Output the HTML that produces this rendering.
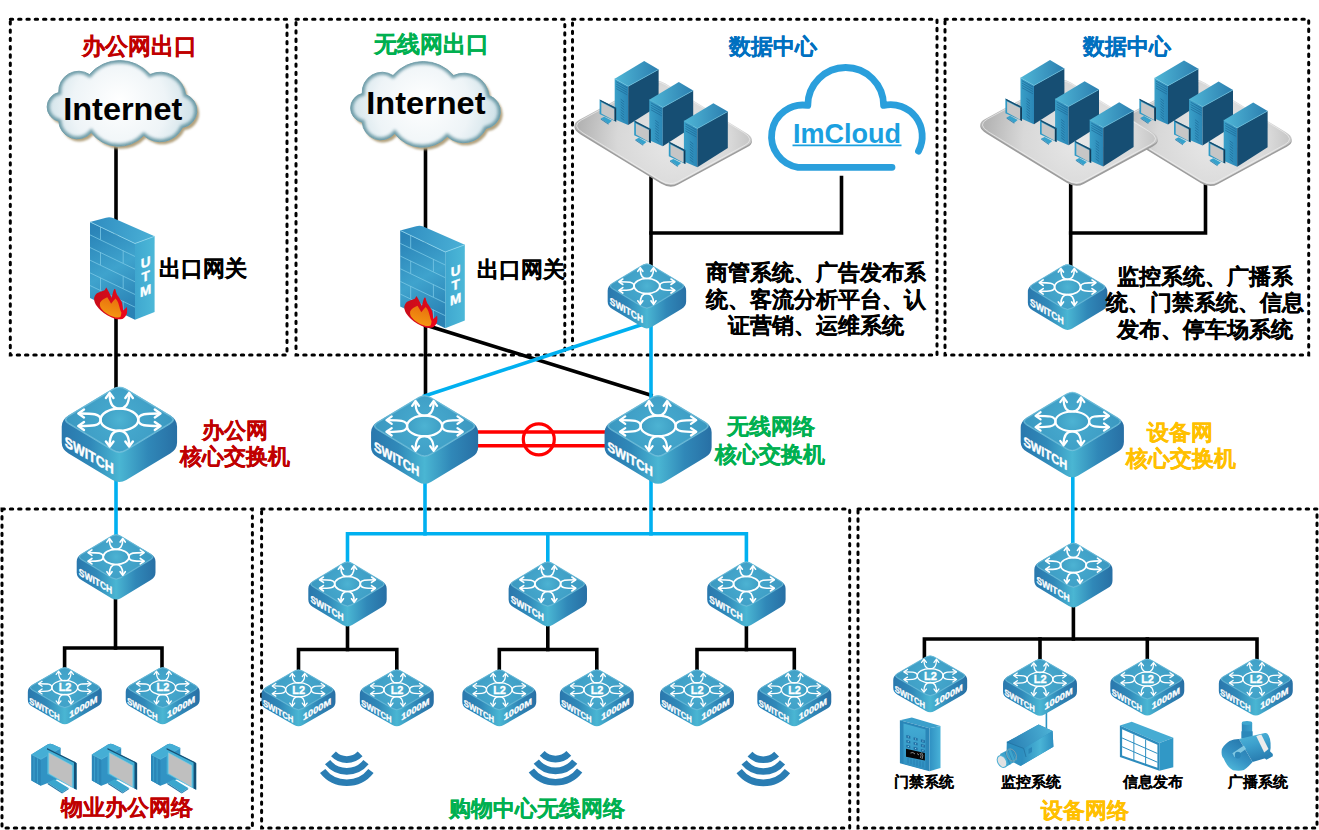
<!DOCTYPE html>
<html><head><meta charset="utf-8"><style>
html,body{margin:0;padding:0;background:#fff;width:1319px;height:830px;overflow:hidden}
svg{display:block;font-family:"Liberation Sans",sans-serif}
</style></head><body>
<svg width="1319" height="830" viewBox="0 0 1319 830">
<defs>

<linearGradient id="gSide" gradientUnits="userSpaceOnUse" x1="-50" y1="0" x2="50" y2="0">
 <stop offset="0" stop-color="#2a78ad"/><stop offset="0.25" stop-color="#3089b9"/><stop offset="0.5" stop-color="#4ab6d3"/><stop offset="0.75" stop-color="#3088b8"/><stop offset="1" stop-color="#2870a5"/>
</linearGradient>
<radialGradient id="gTop" gradientUnits="userSpaceOnUse" cx="0" cy="29" r="50">
 <stop offset="0" stop-color="#48acd0"/><stop offset="1" stop-color="#3a97c0"/>
</radialGradient>
<radialGradient id="gEll" gradientUnits="userSpaceOnUse" cx="0" cy="29" r="18">
 <stop offset="0" stop-color="#4db3d3"/><stop offset="1" stop-color="#3c9cc3"/>
</radialGradient>

<radialGradient id="gCloud" gradientUnits="userSpaceOnUse" cx="72" cy="48" r="85" fx="72" fy="40">
 <stop offset="0" stop-color="#ffffff"/><stop offset="0.55" stop-color="#eef4f7"/><stop offset="1" stop-color="#c4dbe3"/>
</radialGradient>
<filter id="fBlur1" x="-10%" y="-10%" width="120%" height="120%"><feGaussianBlur stdDeviation="0.8"/></filter>
<filter id="fBlur2" x="-10%" y="-10%" width="120%" height="120%"><feGaussianBlur stdDeviation="1.5"/></filter>
<clipPath id="cpCloud"><path d="M 11.50,60.65 A 14.70,14.70 0 0 1 11.50,31.90 A 19.89,19.89 0 0 1 42.25,13.90 A 39.75,39.75 0 0 1 102.75,13.90 A 25.24,25.24 0 0 1 138.35,33.90 A 17.11,17.11 0 0 1 135.25,66.90 A 24.68,24.68 0 0 1 96.50,74.90 A 34.37,34.37 0 0 1 44.00,71.90 A 18.53,18.53 0 0 1 11.50,60.65 Z"/></clipPath>
<g id="cloud">
 <path d="M 11.50,60.65 A 14.70,14.70 0 0 1 11.50,31.90 A 19.89,19.89 0 0 1 42.25,13.90 A 39.75,39.75 0 0 1 102.75,13.90 A 25.24,25.24 0 0 1 138.35,33.90 A 17.11,17.11 0 0 1 135.25,66.90 A 24.68,24.68 0 0 1 96.50,74.90 A 34.37,34.37 0 0 1 44.00,71.90 A 18.53,18.53 0 0 1 11.50,60.65 Z" transform="translate(2.2 2.6)" fill="#b3a27e" filter="url(#fBlur1)"/>
 <path d="M 11.50,60.65 A 14.70,14.70 0 0 1 11.50,31.90 A 19.89,19.89 0 0 1 42.25,13.90 A 39.75,39.75 0 0 1 102.75,13.90 A 25.24,25.24 0 0 1 138.35,33.90 A 17.11,17.11 0 0 1 135.25,66.90 A 24.68,24.68 0 0 1 96.50,74.90 A 34.37,34.37 0 0 1 44.00,71.90 A 18.53,18.53 0 0 1 11.50,60.65 Z" fill="url(#gCloud)"/>
 <g clip-path="url(#cpCloud)"><path d="M 11.50,60.65 A 14.70,14.70 0 0 1 11.50,31.90 A 19.89,19.89 0 0 1 42.25,13.90 A 39.75,39.75 0 0 1 102.75,13.90 A 25.24,25.24 0 0 1 138.35,33.90 A 17.11,17.11 0 0 1 135.25,66.90 A 24.68,24.68 0 0 1 96.50,74.90 A 34.37,34.37 0 0 1 44.00,71.90 A 18.53,18.53 0 0 1 11.50,60.65 Z" fill="none" stroke="#6596a3" stroke-width="5.2" filter="url(#fBlur2)" opacity="0.9"/></g>
 <path d="M 11.50,60.65 A 14.70,14.70 0 0 1 11.50,31.90 A 19.89,19.89 0 0 1 42.25,13.90 A 39.75,39.75 0 0 1 102.75,13.90 A 25.24,25.24 0 0 1 138.35,33.90 A 17.11,17.11 0 0 1 135.25,66.90 A 24.68,24.68 0 0 1 96.50,74.90 A 34.37,34.37 0 0 1 44.00,71.90 A 18.53,18.53 0 0 1 11.50,60.65 Z" fill="none" stroke="#6f9ca8" stroke-width="0.9"/>
</g>
<linearGradient id="gFwFront" gradientUnits="userSpaceOnUse" x1="0" y1="10" x2="45" y2="85">
 <stop offset="0" stop-color="#2a84b8"/><stop offset="0.5" stop-color="#3fa3cd"/><stop offset="1" stop-color="#2a82b5"/>
</linearGradient>
<linearGradient id="gFwSide" gradientUnits="userSpaceOnUse" x1="45" y1="0" x2="64.6" y2="0">
 <stop offset="0" stop-color="#3fa7cf"/><stop offset="1" stop-color="#4cb8d8"/>
</linearGradient>
<linearGradient id="gFwTop" gradientUnits="userSpaceOnUse" x1="0" y1="0" x2="64" y2="14">
 <stop offset="0" stop-color="#2f8cc0"/><stop offset="1" stop-color="#4ab0d6"/>
</linearGradient>
<linearGradient id="gFlameO" x1="0" y1="0" x2="1" y2="0.3">
 <stop offset="0" stop-color="#c40d1a"/><stop offset="1" stop-color="#e8071c"/>
</linearGradient>
<linearGradient id="gFlameI" x1="0.6" y1="0" x2="0.3" y2="1">
 <stop offset="0" stop-color="#e8700e"/><stop offset="1" stop-color="#f59a12"/>
</linearGradient>
<g id="fw">
<path d="M 0,0 L 16,-4.2 Q 19.9,-5.2 23,-3.8 L 64.6,14.4 L 45,21.6 Z" fill="url(#gFwTop)"/>
<path d="M 0,0 L 45,21.6 L 45,97.9 L 0,76 Z" fill="url(#gFwFront)"/>
<path d="M 45,21.6 L 64.6,14.4 L 64.6,90.1 L 45,97.9 Z" fill="url(#gFwSide)"/>
<path d="M 0,12.97 L 45,34.57 M 0,25.63 L 45,47.23 M 0,38.30 L 45,59.90 M 0,50.97 L 45,72.57 M 0,63.63 L 45,85.23 M 10.5,5.04 L 10.5,17.71 M 33.2,28.60 L 33.2,41.27 M 10.5,30.37 L 10.5,43.04 M 33.2,53.94 L 33.2,66.60 M 10.5,55.71 L 10.5,68.37 M 33.2,79.27 L 33.2,91.94" stroke="#7cc9e6" stroke-width="0.9" fill="none" opacity="0.85"/>
<path d="M 0,0 L 45,21.6 L 64.6,14.4" stroke="#8fd6ee" stroke-width="0.8" fill="none"/>
<text transform="translate(55.5 45.0) skewY(-20)" x="0" y="0" text-anchor="middle" font-size="13.5" font-weight="bold" fill="#fff" stroke="#fff" stroke-width="0.4">U</text>
<text transform="translate(55.5 59.1) skewY(-20)" x="0" y="0" text-anchor="middle" font-size="13.5" font-weight="bold" fill="#fff" stroke="#fff" stroke-width="0.4">T</text>
<text transform="translate(55.5 73.2) skewY(-20)" x="0" y="0" text-anchor="middle" font-size="13.5" font-weight="bold" fill="#fff" stroke="#fff" stroke-width="0.4">M</text>
<path d="M 4.07,76 C 5,72.5 7,71 8.67,70.6 C 11,69.5 13,69.3 14.6,68.4 C 15.3,67.6 15.8,66.5 16.3,65.7 C 18,68.5 20,72 21.7,76 C 22.5,72.5 23.2,69 24.2,67.4 C 24.7,66.8 25.4,67 25.5,67.8 C 26,70.5 26.8,72.5 28.2,74.4 C 29.5,76.5 31.2,78.5 32,80.9 C 32.6,83.5 32.8,86 33.1,88.5 C 34.5,87.5 35.8,86.3 36.9,85.2 C 37.3,87.5 37.3,89.5 36.9,91.7 C 36,94 34.5,96 32.5,97.1 C 30,97.6 27.5,97.6 25.5,97.1 C 19.5,95 14.5,92 10.8,88.5 C 8,86 6,83.5 4.9,80.9 C 4.3,79.3 4,77.6 4.07,76 Z" fill="url(#gFlameO)"/>
<path d="M 10,80.9 C 11,79.3 12,78.2 13,77.6 C 14.5,76.8 16,76.2 17.3,75.4 C 18.6,77.5 20,79.8 21.1,81.9 C 22.5,80 24,78 25.5,76.5 C 26.7,77.8 27.6,79.3 28.2,80.9 C 29,83.3 29.6,86 30.4,88.5 C 30.8,89.3 31.1,90 31.4,90.6 C 31.4,92.2 31,93.7 30.4,95 C 28.8,95.6 27.1,95.7 25.5,95.5 C 21.5,94.5 18,92.8 15.2,90.6 C 13,89 11.3,87.2 10.3,85.2 C 9.8,83.8 9.7,82.3 10,80.9 Z" fill="url(#gFlameI)"/>
</g>
<radialGradient id="gPlat" gradientUnits="userSpaceOnUse" cx="100" cy="15" r="95">
 <stop offset="0" stop-color="#e8e8e8"/><stop offset="0.6" stop-color="#d8d8d8"/><stop offset="1" stop-color="#b4b4b4"/>
</radialGradient>
<linearGradient id="gSrvTop" x1="0" y1="0" x2="1" y2="0">
 <stop offset="0" stop-color="#4fb6d6"/><stop offset="1" stop-color="#2c7fb0"/>
</linearGradient>
<linearGradient id="gSrvFront" x1="0" y1="0" x2="1" y2="0">
 <stop offset="0" stop-color="#3aa0c8"/><stop offset="1" stop-color="#2a86b6"/>
</linearGradient>
<linearGradient id="gSrvSide" gradientUnits="userSpaceOnUse" x1="54" y1="0" x2="84" y2="0">
 <stop offset="0" stop-color="#164f75"/><stop offset="1" stop-color="#154666"/>
</linearGradient>
<g id="srvgrp">
<path d="M 5.17,-6.10 Q -5.34,-0.41 6.79,7.01 L 86.68,55.83 Q 95.78,61.39 103.66,57.12 L 172.83,19.60 Q 183.34,13.91 171.21,6.49 L 91.32,-42.33 Q 82.22,-47.89 74.34,-43.62 Z" transform="translate(0 1.8)" fill="#9d9d9d"/>
<path d="M 5.17,-6.10 Q -5.34,-0.41 6.79,7.01 L 86.68,55.83 Q 95.78,61.39 103.66,57.12 L 172.83,19.60 Q 183.34,13.91 171.21,6.49 L 91.32,-42.33 Q 82.22,-47.89 74.34,-43.62 Z" fill="url(#gPlat)"/>
<path d="M 7.14,-5.80 Q -3.11,-0.24 8.73,7.00 L 86.74,54.67 Q 95.62,60.10 103.32,55.93 L 170.86,19.30 Q 181.12,13.74 169.27,6.50 L 91.26,-41.17 Q 82.38,-46.60 74.68,-42.43 Z" fill="none" stroke="#f2f2f2" stroke-width="0.8" opacity="0.8"/>
<path d="M 40.50,-47.20 L 54.00,-39.60 L 54.00,-0.80 L 40.50,-6.70 Z" fill="url(#gSrvFront)" transform="translate(0 0)"/>
<path d="M 54.00,-39.60 L 84.40,-56.50 L 84.40,-20.20 L 54.00,-0.80 Z" fill="#164e73"/>
<path d="M 40.50,-47.20 L 70.00,-64.90 L 84.40,-56.50 L 54.00,-39.60 Z" fill="url(#gSrvTop)"/>
<path d="M 42.00,-44.20 L 53.00,-38.01 M 42.00,-41.90 L 53.00,-35.71 M 42.00,-39.60 L 53.00,-33.41 M 42.00,-37.30 L 53.00,-31.11 M 46.50,-26.67 L 50.00,-23.85 M 46.50,-24.07 L 50.00,-21.25 M 46.50,-21.47 L 50.00,-18.65 M 46.50,-18.87 L 50.00,-16.05 M 46.50,-16.27 L 50.00,-13.45 M 46.50,-13.67 L 50.00,-10.85 M 46.50,-11.07 L 50.00,-8.25 M 46.50,-8.47 L 50.00,-5.65" stroke="#1d6a98" stroke-width="0.7" fill="none"/>
<path d="M 40.50,-47.20 L 54.00,-39.60 L 84.40,-56.50" stroke="#6cc6e3" stroke-width="0.6" fill="none"/>
<path d="M 26.60,-7.50 L 30.00,-9.20 L 37.70,-5.10 L 34.30,-2.20 Z" fill="#36a2cc"/>
<path d="M 26.60,-7.50 L 34.30,-2.20 L 34.30,-1.20 L 26.60,-6.50 Z" fill="#2a80b0"/>
<path d="M 25.40,-26.50 L 42.00,-18.10 L 42.00,-4.10 L 25.40,-11.80 Z" fill="#2f9ac6"/>
<path d="M 40.10,-17.10 L 42.00,-18.10 L 42.00,-4.10 L 40.10,-5.10 Z" fill="#133c58"/>
<path d="M 25.40,-26.50 L 42.00,-18.10 L 40.60,-17.20 L 26.40,-24.60 Z" fill="#1a4a6a"/>
<path d="M 27.10,-23.60 L 40.10,-16.90 L 40.10,-5.30 L 27.10,-12.50 Z" fill="#c6c6c6"/>
<path d="M 75.10,-26.10 L 88.60,-18.50 L 88.60,20.30 L 75.10,14.40 Z" fill="url(#gSrvFront)" transform="translate(0 0)"/>
<path d="M 88.60,-18.50 L 119.00,-35.40 L 119.00,0.90 L 88.60,20.30 Z" fill="#164e73"/>
<path d="M 75.10,-26.10 L 104.60,-43.80 L 119.00,-35.40 L 88.60,-18.50 Z" fill="url(#gSrvTop)"/>
<path d="M 76.60,-23.10 L 87.60,-16.91 M 76.60,-20.80 L 87.60,-14.61 M 76.60,-18.50 L 87.60,-12.31 M 76.60,-16.20 L 87.60,-10.01 M 81.10,-5.57 L 84.60,-2.75 M 81.10,-2.97 L 84.60,-0.15 M 81.10,-0.37 L 84.60,2.45 M 81.10,2.23 L 84.60,5.05 M 81.10,4.83 L 84.60,7.65 M 81.10,7.43 L 84.60,10.25 M 81.10,10.03 L 84.60,12.85 M 81.10,12.63 L 84.60,15.45" stroke="#1d6a98" stroke-width="0.7" fill="none"/>
<path d="M 75.10,-26.10 L 88.60,-18.50 L 119.00,-35.40" stroke="#6cc6e3" stroke-width="0.6" fill="none"/>
<path d="M 61.20,13.60 L 64.60,11.90 L 72.30,16.00 L 68.90,18.90 Z" fill="#36a2cc"/>
<path d="M 61.20,13.60 L 68.90,18.90 L 68.90,19.90 L 61.20,14.60 Z" fill="#2a80b0"/>
<path d="M 60.00,-5.40 L 76.60,3.00 L 76.60,17.00 L 60.00,9.30 Z" fill="#2f9ac6"/>
<path d="M 74.70,4.00 L 76.60,3.00 L 76.60,17.00 L 74.70,16.00 Z" fill="#133c58"/>
<path d="M 60.00,-5.40 L 76.60,3.00 L 75.20,3.90 L 61.00,-3.50 Z" fill="#1a4a6a"/>
<path d="M 61.70,-2.50 L 74.70,4.20 L 74.70,15.80 L 61.70,8.60 Z" fill="#c6c6c6"/>
<path d="M 109.70,-5.00 L 123.20,2.60 L 123.20,41.40 L 109.70,35.50 Z" fill="url(#gSrvFront)" transform="translate(0 0)"/>
<path d="M 123.20,2.60 L 153.60,-14.30 L 153.60,22.00 L 123.20,41.40 Z" fill="#164e73"/>
<path d="M 109.70,-5.00 L 139.20,-22.70 L 153.60,-14.30 L 123.20,2.60 Z" fill="url(#gSrvTop)"/>
<path d="M 111.20,-2.00 L 122.20,4.19 M 111.20,0.30 L 122.20,6.49 M 111.20,2.60 L 122.20,8.79 M 111.20,4.90 L 122.20,11.09 M 115.70,15.53 L 119.20,18.35 M 115.70,18.13 L 119.20,20.95 M 115.70,20.73 L 119.20,23.55 M 115.70,23.33 L 119.20,26.15 M 115.70,25.93 L 119.20,28.75 M 115.70,28.53 L 119.20,31.35 M 115.70,31.13 L 119.20,33.95 M 115.70,33.73 L 119.20,36.55" stroke="#1d6a98" stroke-width="0.7" fill="none"/>
<path d="M 109.70,-5.00 L 123.20,2.60 L 153.60,-14.30" stroke="#6cc6e3" stroke-width="0.6" fill="none"/>
<path d="M 95.80,34.70 L 99.20,33.00 L 106.90,37.10 L 103.50,40.00 Z" fill="#36a2cc"/>
<path d="M 95.80,34.70 L 103.50,40.00 L 103.50,41.00 L 95.80,35.70 Z" fill="#2a80b0"/>
<path d="M 94.60,15.70 L 111.20,24.10 L 111.20,38.10 L 94.60,30.40 Z" fill="#2f9ac6"/>
<path d="M 109.30,25.10 L 111.20,24.10 L 111.20,38.10 L 109.30,37.10 Z" fill="#133c58"/>
<path d="M 94.60,15.70 L 111.20,24.10 L 109.80,25.00 L 95.60,17.60 Z" fill="#1a4a6a"/>
<path d="M 96.30,18.60 L 109.30,25.30 L 109.30,36.90 L 96.30,29.70 Z" fill="#c6c6c6"/>
</g><g id="pc">
<path d="M 5.4,16.6 L 21.5,6.6 Q 23.8,5.2 26.5,6.2 L 34.7,10.1 L 34.7,40 L 14.8,47.7 L 5.4,42.6 Z" fill="#3193c4"/>
<path d="M 5.40,16.60 L 14.80,21.30 L 14.80,47.70 L 5.40,42.60 Z" fill="#2a86b8"/>
<path d="M 5.4,16.6 L 21.5,6.6 Q 23.8,5.2 26.5,6.2 L 34.7,10.1 L 14.8,21.3 Z" fill="#45aed5"/>
<path d="M 8,18.5 L 8,43.5 M 11.5,20.3 L 11.5,45.5" stroke="#3aa0cc" stroke-width="1"/>
<path d="M 5.4,16.6 L 14.8,21.3 L 34.7,10.1" stroke="#6fc4e2" stroke-width="0.5" fill="none"/>
<path d="M 21.70,44.80 L 28.20,41.20 L 42.60,49.90 L 36.10,54.20 Z" fill="#3aa6ce"/>
<path d="M 21.70,44.80 L 36.10,54.20 L 36.10,55.60 L 21.70,46.20 Z" fill="#2577a8"/>
<path d="M 36.10,54.20 L 42.60,49.90 L 42.60,51.30 L 36.10,55.60 Z" fill="#2a86b8"/>
<path d="M 21.00,10.10 L 48.00,23.50 L 50.60,25.30 L 50.60,51.70 L 48.00,50.50 L 21.00,36.10 Z" fill="#44b0d6"/>
<path d="M 48.00,23.50 L 50.60,25.30 L 50.60,51.70 L 48.00,50.50 Z" fill="#154f75"/>
<path d="M 21.00,10.10 L 48.00,23.50 L 50.60,25.30 L 48.00,24.80 L 21.00,11.60 Z" fill="#174f73"/>
<path d="M 22.80,14.80 L 46.20,27.50 L 46.20,49.10 L 22.80,35.40 Z" fill="#bfbfbf" stroke="#7fd0ea" stroke-width="0.6"/>
</g>
<linearGradient id="gDoorPanel" x1="0" y1="0" x2="0" y2="1">
 <stop offset="0" stop-color="#44acd4"/><stop offset="1" stop-color="#2f8fc0"/>
</linearGradient>
<linearGradient id="gDoorSide" x1="0" y1="0" x2="1" y2="0">
 <stop offset="0" stop-color="#2f90c2"/><stop offset="1" stop-color="#48b2d8"/>
</linearGradient>
<linearGradient id="gCamTop" x1="0" y1="0.5" x2="1" y2="0.3">
 <stop offset="0" stop-color="#2a80b4"/><stop offset="1" stop-color="#4cb2d6"/>
</linearGradient>
<linearGradient id="gCamSide" x1="0" y1="0" x2="1" y2="0">
 <stop offset="0" stop-color="#2b8abd"/><stop offset="0.6" stop-color="#4ab4d6"/><stop offset="1" stop-color="#2e8fc0"/>
</linearGradient>
<linearGradient id="gSpkBody" x1="0" y1="0" x2="0.3" y2="1">
 <stop offset="0" stop-color="#52b8da"/><stop offset="0.5" stop-color="#3c9fcc"/><stop offset="1" stop-color="#2a7fb2"/>
</linearGradient>
<linearGradient id="gStub" x1="0" y1="0" x2="1" y2="0">
 <stop offset="0" stop-color="#2c88ba"/><stop offset="1" stop-color="#3aa0cc"/>
</linearGradient>
<linearGradient id="gHorn" x1="0.8" y1="0" x2="0.2" y2="1">
 <stop offset="0" stop-color="#2474a8"/><stop offset="0.55" stop-color="#3592c4"/><stop offset="1" stop-color="#52bcdc"/>
</linearGradient><g id="sw">
<path d="M -6.0,2.17 Q 0,-1.45 6.0,2.17 L 44.5,25.38 Q 50.5,29.0 50.5,35.00 L 50.5,49.00 Q 50.5,55.0 44.5,58.62 L 6.0,81.83 Q 0,85.45 -6.0,81.83 L -44.5,58.62 Q -50.5,55.0 -50.5,49.00 L -50.5,35.00 Q -50.5,29.0 -44.5,25.38 Z" fill="url(#gSide)"/>
<path d="M -6.0,2.17 Q 0,-1.45 6.0,2.17 L 44.5,25.38 Q 50.5,29.0 44.5,32.62 L 6.0,55.83 Q 0,59.45 -6.0,55.83 L -44.5,32.62 Q -50.5,29.0 -44.5,25.38 Z" fill="url(#gTop)" stroke="#7ec8e0" stroke-width="0.6"/>
<path d="M -5.0,2.33 Q 0,-0.69 5.0,2.33 L 44.2375,25.99 Q 49.2375,29.0 44.2375,32.01 L 5.0,55.67 Q 0,58.69 -5.0,55.67 L -44.2375,32.01 Q -49.2375,29.0 -44.2375,25.99 Z" fill="none" stroke="#9ad6ea" stroke-width="0.5" opacity="0.7"/>
<ellipse cx="0" cy="29.00" rx="16.5" ry="9.70" fill="url(#gEll)" stroke="#fff" stroke-width="2.1"/>
<path d="M -8.5,7.0 C -8.5,15.5 -5,19.3 0,19.3 C 5,19.3 8.5,15.5 8.5,7.0" stroke="#fff" stroke-width="2.1" fill="none" stroke-linecap="round" stroke-linejoin="round"/>
<path d="M -35,23.5 C -24,23.5 -16.5,23.5 -16.5,29.0 C -16.5,34.5 -24,34.5 -35,34.5" stroke="#fff" stroke-width="2.1" fill="none" stroke-linecap="round" stroke-linejoin="round"/>
<path d="M 35,23.5 C 24,23.5 16.5,23.5 16.5,29.0 C 16.5,34.5 24,34.5 35,34.5" stroke="#fff" stroke-width="2.1" fill="none" stroke-linecap="round" stroke-linejoin="round"/>
<path d="M -8.5,51.0 C -8.5,42.5 -5,38.7 0,38.7 C 5,38.7 8.5,42.5 8.5,51.0" stroke="#fff" stroke-width="2.1" fill="none" stroke-linecap="round" stroke-linejoin="round"/>
<path d="M -11.8,10.0 L -8.5,5.5 L -5.2,10.0" stroke="#fff" stroke-width="2.1" fill="none" stroke-linecap="round" stroke-linejoin="round"/>
<path d="M 5.2,10.0 L 8.5,5.5 L 11.8,10.0" stroke="#fff" stroke-width="2.1" fill="none" stroke-linecap="round" stroke-linejoin="round"/>
<path d="M -31,20.0 L -36,23.5 L -31,27.0" stroke="#fff" stroke-width="2.1" fill="none" stroke-linecap="round" stroke-linejoin="round"/>
<path d="M -31,31.0 L -36,34.5 L -31,38.0" stroke="#fff" stroke-width="2.1" fill="none" stroke-linecap="round" stroke-linejoin="round"/>
<path d="M 31,20.0 L 36,23.5 L 31,27.0" stroke="#fff" stroke-width="2.1" fill="none" stroke-linecap="round" stroke-linejoin="round"/>
<path d="M 31,31.0 L 36,34.5 L 31,38.0" stroke="#fff" stroke-width="2.1" fill="none" stroke-linecap="round" stroke-linejoin="round"/>
<path d="M -11.8,48.0 L -8.5,52.5 L -5.2,48.0" stroke="#fff" stroke-width="2.1" fill="none" stroke-linecap="round" stroke-linejoin="round"/>
<path d="M 5.2,48.0 L 8.5,52.5 L 11.8,48.0" stroke="#fff" stroke-width="2.1" fill="none" stroke-linecap="round" stroke-linejoin="round"/>
<text transform="skewY(30)" x="-47.8" y="79.8" font-size="13" font-weight="bold" fill="#fff" stroke="#fff" stroke-width="0.4" textLength="42.8" lengthAdjust="spacingAndGlyphs">SWITCH</text>
</g><g id="l2">
<path d="M -6.0,2.07 Q 0,-1.39 6.0,2.07 L 44.5,24.29 Q 50.5,27.75 50.5,33.75 L 50.5,44.25 Q 50.5,50.25 44.5,53.71 L 6.0,75.93 Q 0,79.39 -6.0,75.93 L -44.5,53.71 Q -50.5,50.25 -50.5,44.25 L -50.5,33.75 Q -50.5,27.75 -44.5,24.29 Z" fill="url(#gSide)"/>
<path d="M -6.0,2.07 Q 0,-1.39 6.0,2.07 L 44.5,24.29 Q 50.5,27.75 44.5,31.21 L 6.0,53.43 Q 0,56.89 -6.0,53.43 L -44.5,31.21 Q -50.5,27.75 -44.5,24.29 Z" fill="url(#gTop)" stroke="#7ec8e0" stroke-width="0.6"/>
<path d="M -5.0,2.23 Q 0,-0.66 5.0,2.23 L 44.2375,24.87 Q 49.2375,27.75 44.2375,30.63 L 5.0,53.27 Q 0,56.16 -5.0,53.27 L -44.2375,30.63 Q -49.2375,27.75 -44.2375,24.87 Z" fill="none" stroke="#9ad6ea" stroke-width="0.5" opacity="0.7"/>
<ellipse cx="0" cy="27.75" rx="17.5" ry="9.76" fill="url(#gEll)" stroke="#fff" stroke-width="1.75"/>
<path d="M -8.5,6.698275862068965 C -8.5,14.831896551724137 -5,18.468103448275862 0,18.468103448275862 C 5,18.468103448275862 8.5,14.831896551724137 8.5,6.698275862068965" stroke="#fff" stroke-width="1.75" fill="none" stroke-linecap="round" stroke-linejoin="round"/>
<path d="M -35,22.487068965517242 C -24,22.487068965517242 -17.5,22.487068965517242 -17.5,27.75 C -17.5,33.012931034482754 -24,33.012931034482754 -35,33.012931034482754" stroke="#fff" stroke-width="1.75" fill="none" stroke-linecap="round" stroke-linejoin="round"/>
<path d="M 35,22.487068965517242 C 24,22.487068965517242 17.5,22.487068965517242 17.5,27.75 C 17.5,33.012931034482754 24,33.012931034482754 35,33.012931034482754" stroke="#fff" stroke-width="1.75" fill="none" stroke-linecap="round" stroke-linejoin="round"/>
<path d="M -8.5,48.80172413793103 C -8.5,40.66810344827586 -5,37.03189655172414 0,37.03189655172414 C 5,37.03189655172414 8.5,40.66810344827586 8.5,48.80172413793103" stroke="#fff" stroke-width="1.75" fill="none" stroke-linecap="round" stroke-linejoin="round"/>
<path d="M -11.8,9.568965517241379 L -8.5,5.262931034482758 L -5.2,9.568965517241379" stroke="#fff" stroke-width="1.75" fill="none" stroke-linecap="round" stroke-linejoin="round"/>
<path d="M 5.2,9.568965517241379 L 8.5,5.262931034482758 L 11.8,9.568965517241379" stroke="#fff" stroke-width="1.75" fill="none" stroke-linecap="round" stroke-linejoin="round"/>
<path d="M -31,19.137931034482758 L -36,22.487068965517242 L -31,25.836206896551722" stroke="#fff" stroke-width="1.75" fill="none" stroke-linecap="round" stroke-linejoin="round"/>
<path d="M -31,29.663793103448274 L -36,33.012931034482754 L -31,36.36206896551724" stroke="#fff" stroke-width="1.75" fill="none" stroke-linecap="round" stroke-linejoin="round"/>
<path d="M 31,19.137931034482758 L 36,22.487068965517242 L 31,25.836206896551722" stroke="#fff" stroke-width="1.75" fill="none" stroke-linecap="round" stroke-linejoin="round"/>
<path d="M 31,29.663793103448274 L 36,33.012931034482754 L 31,36.36206896551724" stroke="#fff" stroke-width="1.75" fill="none" stroke-linecap="round" stroke-linejoin="round"/>
<path d="M -11.8,45.93103448275862 L -8.5,50.23706896551724 L -5.2,45.93103448275862" stroke="#fff" stroke-width="1.75" fill="none" stroke-linecap="round" stroke-linejoin="round"/>
<path d="M 5.2,45.93103448275862 L 8.5,50.23706896551724 L 11.8,45.93103448275862" stroke="#fff" stroke-width="1.75" fill="none" stroke-linecap="round" stroke-linejoin="round"/>
<text x="0.3" y="33.05" text-anchor="middle" font-size="15" font-weight="bold" fill="#fff" stroke="#fff" stroke-width="0.5">L2</text>
<text transform="skewY(30)" x="-48.5" y="77.3" font-size="12.3" font-weight="bold" fill="#fff" stroke="#fff" stroke-width="0.4" textLength="41.4" lengthAdjust="spacingAndGlyphs">SWITCH</text>
<text transform="skewY(-30)" x="6" y="73" font-size="12.3" font-weight="bold" fill="#fff" stroke="#fff" stroke-width="0.4" textLength="38.5" lengthAdjust="spacingAndGlyphs">1000M</text>
</g>
</defs>
<rect x="10.3" y="19.3" width="276.7" height="335.7" fill="none" stroke="#000" stroke-width="3" stroke-dasharray="2.4 5.9" stroke-linecap="round"/>
<rect x="296" y="19.3" width="268.79999999999995" height="335.7" fill="none" stroke="#000" stroke-width="3" stroke-dasharray="2.4 5.9" stroke-linecap="round"/>
<rect x="572.5" y="19.3" width="364.5" height="335.7" fill="none" stroke="#000" stroke-width="3" stroke-dasharray="2.4 5.9" stroke-linecap="round"/>
<rect x="945" y="19.3" width="363.70000000000005" height="335.7" fill="none" stroke="#000" stroke-width="3" stroke-dasharray="2.4 5.9" stroke-linecap="round"/>
<rect x="2" y="509" width="250.4" height="319" fill="none" stroke="#000" stroke-width="3" stroke-dasharray="2.4 5.9" stroke-linecap="round"/>
<rect x="261.6" y="509" width="588.1" height="319" fill="none" stroke="#000" stroke-width="3" stroke-dasharray="2.4 5.9" stroke-linecap="round"/>
<rect x="858" y="509" width="459" height="319" fill="none" stroke="#000" stroke-width="3" stroke-dasharray="2.4 5.9" stroke-linecap="round"/>
<path d="M 116,140 L 116,400" stroke="#000" stroke-width="3.6" fill="none" stroke-linecap="square"/>
<path d="M 116,470 L 116,545" stroke="#00b0f0" stroke-width="3.6" fill="none" stroke-linecap="square"/>
<path d="M 115.5,590 L 115.5,648" stroke="#000" stroke-width="3.6" fill="none" stroke-linecap="square"/>
<path d="M 64.6,680 L 64.6,648 L 162,648 L 162,680" stroke="#000" stroke-width="3.6" fill="none" stroke-linecap="square"/>
<path d="M 425.5,140 L 425.5,405" stroke="#000" stroke-width="3.6" fill="none" stroke-linecap="square"/>
<path d="M 425.5,325 L 651,395.2" stroke="#000" stroke-width="3.6" fill="none" stroke-linecap="square"/>
<path d="M 651,178 L 651,270" stroke="#000" stroke-width="3.6" fill="none" stroke-linecap="square"/>
<path d="M 651,233 L 841.5,233 L 841.5,177.6" stroke="#000" stroke-width="3.6" fill="none" stroke-linecap="square"/>
<path d="M 1070.7,175 L 1070.7,270" stroke="#000" stroke-width="3.6" fill="none" stroke-linecap="square"/>
<path d="M 1070.7,233 L 1205.5,233 L 1205.5,183" stroke="#000" stroke-width="3.6" fill="none" stroke-linecap="square"/>
<path d="M 651,320 L 651,400" stroke="#00b0f0" stroke-width="3.6" fill="none" stroke-linecap="square"/>
<path d="M 424.6,396 L 645,323.5" stroke="#00b0f0" stroke-width="3.6" fill="none" stroke-linecap="square"/>
<path d="M 425,470 L 425,533.8" stroke="#00b0f0" stroke-width="3.6" fill="none" stroke-linecap="square"/>
<path d="M 651,470 L 651,533.8" stroke="#00b0f0" stroke-width="3.6" fill="none" stroke-linecap="square"/>
<path d="M 347.5,570 L 347.5,533.8 L 746.4,533.8 L 746.4,570" stroke="#00b0f0" stroke-width="3.6" fill="none" stroke-linecap="square"/>
<path d="M 547.8,533.8 L 547.8,570" stroke="#00b0f0" stroke-width="3.6" fill="none" stroke-linecap="square"/>
<path d="M 347.5,615 L 347.5,649.5" stroke="#000" stroke-width="3.6" fill="none" stroke-linecap="square"/>
<path d="M 298.5,680 L 298.5,649.5 L 396.8,649.5 L 396.8,680" stroke="#000" stroke-width="3.6" fill="none" stroke-linecap="square"/>
<path d="M 547.8,615 L 547.8,649.5" stroke="#000" stroke-width="3.6" fill="none" stroke-linecap="square"/>
<path d="M 499.3,680 L 499.3,649.5 L 596.8,649.5 L 596.8,680" stroke="#000" stroke-width="3.6" fill="none" stroke-linecap="square"/>
<path d="M 746.4,615 L 746.4,649.5" stroke="#000" stroke-width="3.6" fill="none" stroke-linecap="square"/>
<path d="M 697,680 L 697,649.5 L 794.3,649.5 L 794.3,680" stroke="#000" stroke-width="3.6" fill="none" stroke-linecap="square"/>
<path d="M 1072.8,470 L 1072.8,550" stroke="#00b0f0" stroke-width="3.6" fill="none" stroke-linecap="square"/>
<path d="M 1073.4,600 L 1073.4,639" stroke="#000" stroke-width="3.6" fill="none" stroke-linecap="square"/>
<path d="M 924.4,665 L 924.4,639 L 1257,639 L 1257,665" stroke="#000" stroke-width="3.6" fill="none" stroke-linecap="square"/>
<path d="M 1040,639 L 1040,665" stroke="#000" stroke-width="3.6" fill="none" stroke-linecap="square"/>
<path d="M 1147.3,639 L 1147.3,665" stroke="#000" stroke-width="3.6" fill="none" stroke-linecap="square"/>
<path d="M 470,432 L 612,432 M 470,445.8 L 612,445.8" stroke="#ff0000" stroke-width="3.4" fill="none"/>
<circle cx="538.8" cy="439.3" r="15.5" stroke="#ff0000" stroke-width="3.2" fill="none"/>
<use href="#cloud" transform="translate(47.25 60.6)"/>
<use href="#cloud" transform="translate(350.75 61.6)"/>
<text x="63.2" y="120" font-size="31.8" font-weight="bold" fill="#000" textLength="119.2" lengthAdjust="spacingAndGlyphs">Internet</text>
<text x="366.3" y="113.75" font-size="31.8" font-weight="bold" fill="#000" textLength="119.2" lengthAdjust="spacingAndGlyphs">Internet</text>
<use href="#fw" transform="translate(90 221.9)"/>
<use href="#fw" transform="translate(400.2 230.4)"/>
<use href="#srvgrp" transform="translate(574.2 125.9)"/>
<use href="#srvgrp" transform="translate(1114 125.3)"/>
<use href="#srvgrp" transform="translate(980 125)"/>
<path d="M 892,167.3 L 798,167.3 A 31,31 0 1 1 807.8,105.4 A 37.2,37.2 0 1 1 883.6,105.4 A 31.6,31.6 0 0 1 918.5,151.1" stroke="#2a9fdc" stroke-width="6.8" fill="none" stroke-linecap="round" stroke-linejoin="round"/><text x="792.9" y="142.7" font-size="27" font-weight="bold" fill="#1aa0e0">ImCloud</text><path d="M 792.5,145.3 L 901.5,145.3" stroke="#1aa0e0" stroke-width="1.7"/>
<use href="#pc" transform="translate(26 738)"/>
<use href="#pc" transform="translate(86.5 738)"/>
<use href="#pc" transform="translate(145.6 738)"/>
<path d="M 333.48,753.90 A 18.52,18.52 0 0 0 360.12,753.90 M 327.59,762.16 A 24.72,24.72 0 0 0 366.01,762.16 M 322.65,770.97 A 30.65,30.65 0 0 0 370.95,770.97" stroke="#2a7db3" stroke-width="6.7" fill="none"/>
<path d="M 542.18,753.40 A 18.52,18.52 0 0 0 568.82,753.40 M 536.29,761.66 A 24.72,24.72 0 0 0 574.71,761.66 M 531.35,770.47 A 30.65,30.65 0 0 0 579.65,770.47" stroke="#2a7db3" stroke-width="6.7" fill="none"/>
<path d="M 749.98,754.10 A 18.52,18.52 0 0 0 776.62,754.10 M 744.09,762.36 A 24.72,24.72 0 0 0 782.51,762.36 M 739.15,771.17 A 30.65,30.65 0 0 0 787.45,771.17" stroke="#2a7db3" stroke-width="6.7" fill="none"/>
<path d="M 899.90,720.30 L 911.80,717.60 L 940.50,725.90 L 929.40,728.30 Z" fill="#3b9fcb"/>
<path d="M 899.90,720.30 L 929.40,728.30 L 929.40,771.30 L 899.90,763.30 Z" fill="#2a86b8"/>
<path d="M 903.50,723.50 L 925.50,729.50 L 925.50,769.80 L 903.50,763.80 Z" fill="url(#gDoorPanel)"/>
<path d="M 929.40,728.30 L 940.50,725.90 L 940.50,768.10 L 929.40,771.30 Z" fill="url(#gDoorSide)"/>
<path d="M 906.30,735.10 L 910.30,736.10 L 910.30,738.70 L 906.30,737.70 Z" fill="#1f6ea3"/>
<rect x="907.80" y="736.40" width="1" height="1" fill="#9fd8ee"/>
<path d="M 913.60,737.20 L 917.60,738.20 L 917.60,740.80 L 913.60,739.80 Z" fill="#1f6ea3"/>
<rect x="915.10" y="738.50" width="1" height="1" fill="#9fd8ee"/>
<path d="M 920.90,739.30 L 924.90,740.30 L 924.90,742.90 L 920.90,741.90 Z" fill="#1f6ea3"/>
<rect x="922.40" y="740.60" width="1" height="1" fill="#9fd8ee"/>
<path d="M 906.30,739.90 L 910.30,740.90 L 910.30,743.50 L 906.30,742.50 Z" fill="#1f6ea3"/>
<rect x="907.80" y="741.20" width="1" height="1" fill="#9fd8ee"/>
<path d="M 913.60,742.00 L 917.60,743.00 L 917.60,745.60 L 913.60,744.60 Z" fill="#1f6ea3"/>
<rect x="915.10" y="743.30" width="1" height="1" fill="#9fd8ee"/>
<path d="M 920.90,744.10 L 924.90,745.10 L 924.90,747.70 L 920.90,746.70 Z" fill="#1f6ea3"/>
<rect x="922.40" y="745.40" width="1" height="1" fill="#9fd8ee"/>
<path d="M 906.30,744.70 L 910.30,745.70 L 910.30,748.30 L 906.30,747.30 Z" fill="#1f6ea3"/>
<rect x="907.80" y="746.00" width="1" height="1" fill="#9fd8ee"/>
<path d="M 913.60,746.80 L 917.60,747.80 L 917.60,750.40 L 913.60,749.40 Z" fill="#1f6ea3"/>
<rect x="915.10" y="748.10" width="1" height="1" fill="#9fd8ee"/>
<path d="M 920.90,748.90 L 924.90,749.90 L 924.90,752.50 L 920.90,751.50 Z" fill="#1f6ea3"/>
<rect x="922.40" y="750.20" width="1" height="1" fill="#9fd8ee"/>
<path d="M 906.00,748.80 L 924.90,753.00 L 924.90,760.60 L 906.00,756.80 Z" fill="#050505"/>
<path d="M 910.5,753 Q 913,751.5 915,754 M 917,753.5 L 919,755 M 920,753 Q 922,755 920.5,758 M 921.5,752.5 Q 924,755.5 922,759" stroke="#dddddd" stroke-width="0.6" fill="none"/>
<path d="M 908,758 L 908,763.5 M 911,758.7 L 911,764.3 M 914,759.4 L 914,765.1 M 917,760.1 L 917,765.9 M 920,760.8 L 920,766.7 M 923,761.5 L 923,767.4" stroke="#2379ad" stroke-width="0.8"/>
<path d="M 1046.4,706 L 1046.4,728" stroke="#2e94c4" stroke-width="1.6"/>
<path d="M 1006.80,742.10 L 1038.60,724.50 L 1052.60,731.10 L 1053.40,746.80 L 1020.50,766.00 L 1006.40,758.60 Z" fill="#2d8fc0"/>
<path d="M 1006.80,742.10 L 1038.60,724.50 L 1052.60,731.10 L 1023.70,748.40 Z" fill="url(#gCamTop)"/>
<path d="M 1023.70,748.40 L 1052.60,731.10 L 1053.40,746.80 L 1020.50,766.00 Z" fill="url(#gCamSide)"/>
<path d="M 1006.8,742.1 L 1023.7,748.4 L 1026,757" stroke="#1f6e9c" stroke-width="0.7" fill="none"/>
<path d="M 1028.5,749 L 1032,747 L 1032,752 L 1028.5,754 Z" fill="#2a86b8"/>
<path d="M 1000,754 L 1010.5,748.5 L 1017.5,760 L 1005,767.5 Z" fill="#3da3cc"/>
<path d="M 1005,752 L 1010,764.5 M 1008,750.5 L 1013,762.5 M 1011,749 L 1016,761" stroke="#2c88b8" stroke-width="0.9" fill="none"/>
<ellipse cx="1011.5" cy="755" rx="4.5" ry="6.5" transform="rotate(-28 1011.5 755)" fill="none" stroke="#8aa0aa" stroke-width="0.7"/>
<ellipse cx="1002" cy="761.5" rx="4.3" ry="6.3" transform="rotate(-28 1002 761.5)" fill="#e2e2e2" stroke="#4aaed4" stroke-width="1"/>
<path d="M 1119.90,725.60 L 1131.70,721.80 L 1173.30,737.80 L 1159.40,743.00 Z" fill="#46acd3"/>
<path d="M 1159.40,743.00 L 1173.30,737.80 L 1173.30,767.30 L 1159.40,770.80 Z" fill="#3198c6"/>
<path d="M 1119.90,725.60 L 1159.40,743.00 L 1159.40,770.80 L 1119.90,756.90 Z" fill="#2d8cbd"/>
<path d="M 1122.10,729.20 L 1157.40,744.70 L 1157.40,767.80 L 1122.10,755.50 Z" fill="#ffffff"/>
<path d="M 1133.87,734.37 L 1133.87,760.64 M 1122.1,737.97 L 1157.4,753.47 M 1145.63,739.53 L 1145.63,765.79 M 1122.1,746.73 L 1157.4,762.23" stroke="#2b8ec0" stroke-width="1" fill="none"/>
<path d="M 1241.8,723 L 1241.8,738.5 L 1252.2,738.5 L 1252.2,723 Z" fill="url(#gStub)"/>
<path d="M 1241.4,731.3 L 1241.4,738.5 L 1252.6,738.5 L 1252.6,731.3 Z" fill="#2b88ba"/>
<ellipse cx="1247" cy="723" rx="5.2" ry="1.9" fill="#3ea6cf"/>
<path d="M 1262,755.5 L 1270,751.2 L 1272.8,754 L 1272.8,756.2 L 1266.3,759.8 Z" fill="#2a84b6"/>
<path d="M 1238.9,738.9 L 1264.9,733.1 A 5,12.6 0 0 1 1267,757.7 L 1252.6,762 Z" fill="url(#gSpkBody)"/>
<path d="M 1256.2,736 L 1261.3,734.5 L 1268.5,749 L 1264.2,752.6 Z" fill="#ececec"/>
<path d="M 1238.9,738.9 C 1232,739 1226.6,741 1221.9,749 C 1221,754 1222,757 1223.7,758.4 C 1226,764 1229,768 1233,770.3 C 1237,771 1241,771 1243.9,770 C 1248,767 1250,765 1252.6,762 Z" fill="url(#gHorn)"/>
<path d="M 1232.4,753.3 L 1243.9,745.4 L 1246.1,749 L 1234.5,757 Z" fill="#8fd2e8" opacity="0.85"/>
<ellipse cx="1237.8" cy="755.1" rx="3" ry="3.4" fill="#2b86b8"/>
<use href="#sw" transform="translate(119.40 386.60) scale(1.1420)"/>
<use href="#sw" transform="translate(116.10 534.30) scale(0.7800)"/>
<use href="#sw" transform="translate(424.60 395.20) scale(1.0600)"/>
<use href="#sw" transform="translate(658.10 395.20) scale(1.0600)"/>
<use href="#sw" transform="translate(646.90 263.50) scale(0.7770)"/>
<use href="#sw" transform="translate(1067.60 264.20) scale(0.7870)"/>
<use href="#sw" transform="translate(1072.30 391.80) scale(1.0220)"/>
<use href="#sw" transform="translate(1073.40 542.70) scale(0.7740)"/>
<use href="#sw" transform="translate(347.50 561.50) scale(0.7760)"/>
<use href="#sw" transform="translate(547.80 561.50) scale(0.7760)"/>
<use href="#sw" transform="translate(746.40 561.50) scale(0.7760)"/>
<use href="#l2" transform="translate(64.80 667.30) scale(0.7320)"/>
<use href="#l2" transform="translate(162.70 667.30) scale(0.7320)"/>
<use href="#l2" transform="translate(298.50 669.50) scale(0.7320)"/>
<use href="#l2" transform="translate(396.80 669.50) scale(0.7320)"/>
<use href="#l2" transform="translate(499.30 669.50) scale(0.7320)"/>
<use href="#l2" transform="translate(596.80 669.50) scale(0.7320)"/>
<use href="#l2" transform="translate(697.00 669.50) scale(0.7320)"/>
<use href="#l2" transform="translate(794.30 669.50) scale(0.7320)"/>
<use href="#l2" transform="translate(930.20 655.40) scale(0.7320)"/>
<use href="#l2" transform="translate(1040.00 659.00) scale(0.7320)"/>
<use href="#l2" transform="translate(1147.30 658.70) scale(0.7320)"/>
<use href="#l2" transform="translate(1255.80 658.70) scale(0.7320)"/>
<text x="139.6" y="54.2" font-size="22.6" fill="#c00000" stroke="#c00000" stroke-width="0.22" text-anchor="middle" font-weight="bold" >办公网出口</text>
<text x="431" y="52.2" font-size="22.6" fill="#00b050" stroke="#00b050" stroke-width="0.22" text-anchor="middle" font-weight="bold" >无线网出口</text>
<text x="773" y="54" font-size="22" fill="#0070c0" stroke="#0070c0" stroke-width="0.22" text-anchor="middle" font-weight="bold" >数据中心</text>
<text x="1126.6" y="54" font-size="22" fill="#0070c0" stroke="#0070c0" stroke-width="0.22" text-anchor="middle" font-weight="bold" >数据中心</text>
<text x="159.3" y="276" font-size="22" fill="#000" stroke="#000" stroke-width="0.22" text-anchor="start" font-weight="bold" >出口网关</text>
<text x="477" y="277" font-size="22" fill="#000" stroke="#000" stroke-width="0.22" text-anchor="start" font-weight="bold" >出口网关</text>
<text x="815.8" y="280.0" font-size="22" fill="#000" stroke="#000" stroke-width="0.22" text-anchor="middle" font-weight="bold" >商管系统、广告发布系</text>
<text x="815.8" y="306.6" font-size="22" fill="#000" stroke="#000" stroke-width="0.22" text-anchor="middle" font-weight="bold" >统、客流分析平台、认</text>
<text x="815.8" y="333.2" font-size="22" fill="#000" stroke="#000" stroke-width="0.22" text-anchor="middle" font-weight="bold" >证营销、运维系统</text>
<text x="1204.6" y="283.5" font-size="22" fill="#000" stroke="#000" stroke-width="0.22" text-anchor="middle" font-weight="bold" >监控系统、广播系</text>
<text x="1204.6" y="310.0" font-size="22" fill="#000" stroke="#000" stroke-width="0.22" text-anchor="middle" font-weight="bold" >统、门禁系统、信息</text>
<text x="1204.6" y="336.5" font-size="22" fill="#000" stroke="#000" stroke-width="0.22" text-anchor="middle" font-weight="bold" >发布、停车场系统</text>
<text x="234.8" y="437.5" font-size="22" fill="#c00000" stroke="#c00000" stroke-width="0.22" text-anchor="middle" font-weight="bold" >办公网</text>
<text x="235" y="464" font-size="22" fill="#c00000" stroke="#c00000" stroke-width="0.22" text-anchor="middle" font-weight="bold" >核心交换机</text>
<text x="770.7" y="434" font-size="22" fill="#00b050" stroke="#00b050" stroke-width="0.22" text-anchor="middle" font-weight="bold" >无线网络</text>
<text x="770.2" y="461.5" font-size="22" fill="#00b050" stroke="#00b050" stroke-width="0.22" text-anchor="middle" font-weight="bold" >核心交换机</text>
<text x="1179.8" y="439.5" font-size="22" fill="#ffc000" stroke="#ffc000" stroke-width="0.22" text-anchor="middle" font-weight="bold" >设备网</text>
<text x="1180.5" y="466" font-size="22" fill="#ffc000" stroke="#ffc000" stroke-width="0.22" text-anchor="middle" font-weight="bold" >核心交换机</text>
<text x="127" y="815" font-size="22" fill="#c00000" stroke="#c00000" stroke-width="0.22" text-anchor="middle" font-weight="bold" >物业办公网络</text>
<text x="536.8" y="815.5" font-size="22" fill="#00b050" stroke="#00b050" stroke-width="0.22" text-anchor="middle" font-weight="bold" >购物中心无线网络</text>
<text x="1085" y="818" font-size="22" fill="#ffc000" stroke="#ffc000" stroke-width="0.22" text-anchor="middle" font-weight="bold" >设备网络</text>
<text x="923.7" y="787" font-size="14.5" fill="#000" stroke="#000" stroke-width="0.1" text-anchor="middle" font-weight="bold" >门禁系统</text>
<text x="1031.2" y="787" font-size="14.5" fill="#000" stroke="#000" stroke-width="0.1" text-anchor="middle" font-weight="bold" >监控系统</text>
<text x="1152.5" y="787" font-size="14.5" fill="#000" stroke="#000" stroke-width="0.1" text-anchor="middle" font-weight="bold" >信息发布</text>
<text x="1258.4" y="787" font-size="14.5" fill="#000" stroke="#000" stroke-width="0.1" text-anchor="middle" font-weight="bold" >广播系统</text>
</svg>
</body></html>
